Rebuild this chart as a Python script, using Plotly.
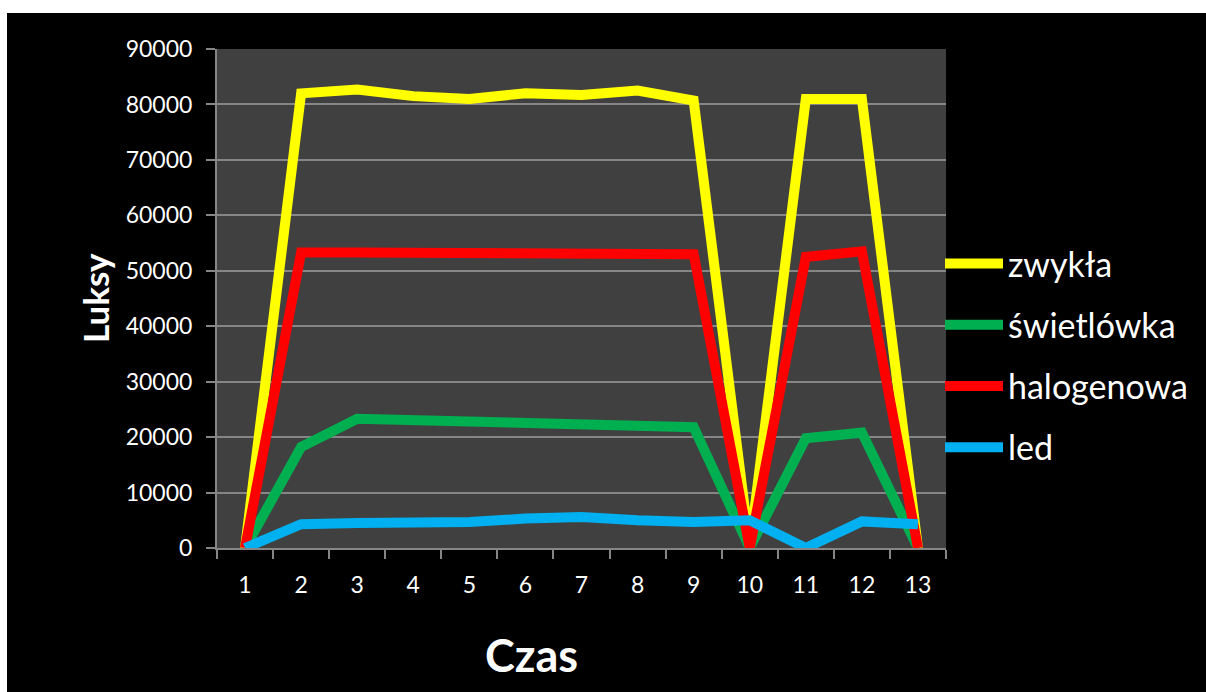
import plotly.graph_objects as go

czas = [str(i) for i in range(1, 14)]
zwykla = [0, 82000, 82700, 81500, 81000, 82000, 81700, 82500, 80700, 0, 81000, 81000, 0]
swietlowka = [0, 18200, 23300, 23100, 22800, 22600, 22300, 22000, 21800, 0, 19800, 20800, 0]
halogenowa = [0, 53300, 53300, 53200, 53000, 53000, 52800, 52700, 53000, 0, 52500, 53500, 0]
led = [0, 4300, 4500, 4600, 4700, 5300, 5600, 5000, 4700, 5000, 0, 4800, 4300]

series = [
    ("zwykła", zwykla, "#FFFF00"),
    ("świetlówka", swietlowka, "#00B050"),
    ("halogenowa", halogenowa, "#FF0000"),
    ("led", led, "#00B0F0"),
]

W, H = 1206, 692
L, R, T, B = 217, 260, 49, 144
pw, ph = W - L - R, H - T - B

def px_x(x):
    return (x - L) / pw

def px_y(y):
    return (H - B - y) / ph

fig = go.Figure()
for i, (name, vals, col) in enumerate(series):
    fig.add_trace(go.Scatter(
        x=czas, y=vals, name=name, mode="lines",
        line=dict(color=col, width=10),
        legendgroup=f"g{i}",
    ))

font = "Lato, Calibri, Carlito, sans-serif"

fig.update_layout(
    width=W, height=H,
    margin=dict(l=L, r=R, t=T, b=B, pad=0),
    paper_bgcolor="#000000",
    plot_bgcolor="#404040",
    font=dict(family=font, color="#FFFFFF", size=23),
    showlegend=True,
    legend=dict(
        x=px_x(940), y=px_y(235), xanchor="left", yanchor="top",
        bgcolor="rgba(0,0,0,0)", font=dict(size=34, color="#FFFFFF", family=font),
        tracegroupgap=14, itemwidth=58,
    ),
    xaxis=dict(
        type="category", range=[-0.5, len(czas) - 0.5],
        showgrid=False, showline=True, linecolor="#868686", linewidth=2,
        ticks="outside", tickson="boundaries", ticklen=9, tickcolor="#868686", tickwidth=2,
        tickfont=dict(size=23, color="#FFFFFF"), zeroline=False, ticklabelstandoff=15,
    ),
    yaxis=dict(
        range=[0, 90000], dtick=10000, showgrid=True, gridcolor="#868686", gridwidth=2,
        showline=True, linecolor="#868686", linewidth=2, ticks="outside", ticklen=9,
        tickcolor="#868686", tickwidth=2, tickfont=dict(size=23, color="#FFFFFF"),
        zeroline=False, tickformat="d", ticklabelstandoff=9,
    ),
    annotations=[
        dict(text="<b>Luksy</b>", x=px_x(95), y=px_y(298), xref="paper", yref="paper",
             showarrow=False, textangle=-90, font=dict(size=35, color="#FFFFFF", family=font),
             xanchor="center", yanchor="middle"),
        dict(text="<b>Czas</b>", x=px_x(531), y=px_y(655), xref="paper", yref="paper",
             showarrow=False, font=dict(size=45, color="#FFFFFF", family=font),
             xanchor="center", yanchor="middle"),
    ],
    shapes=[
        dict(type="rect", xref="paper", yref="paper", x0=px_x(0), x1=px_x(W), y0=px_y(13), y1=px_y(0),
             fillcolor="#FFFFFF", line=dict(width=0), layer="below"),
        dict(type="rect", xref="paper", yref="paper", x0=px_x(0), x1=px_x(7), y0=px_y(H), y1=px_y(0),
             fillcolor="#FFFFFF", line=dict(width=0), layer="below"),
    ],
)

fig.write_html(
    "out.html",
    config={"displayModeBar": False},
    post_script="document.body.style.margin='0';document.body.style.overflow='hidden';",
)
